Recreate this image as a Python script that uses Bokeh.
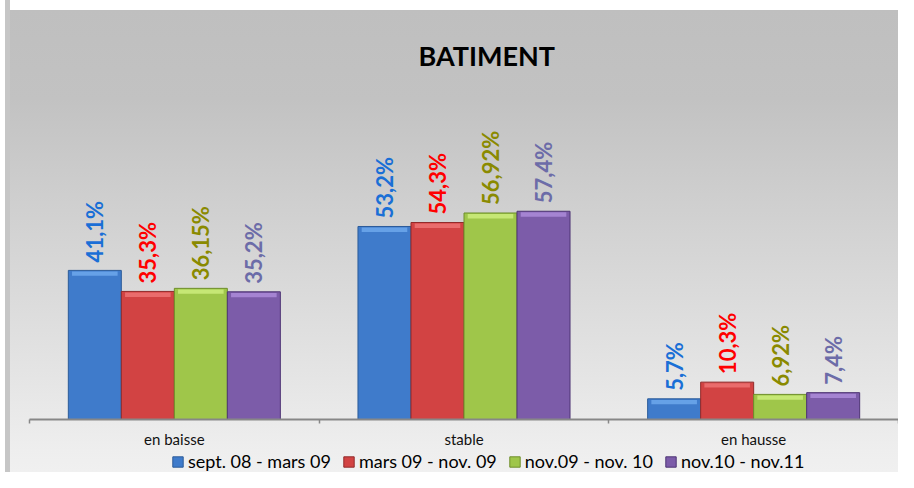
import math
from bokeh.plotting import figure
from bokeh.layouts import column
from bokeh.models import (ColumnDataSource, Range1d, FixedTicker, Legend, LegendItem)
from bokeh.transform import dodge
from bokeh.core.properties import value
from bokeh.embed import file_html
from bokeh.resources import INLINE

# ---- data ----
categories = ["en baisse", "stable", "en hausse"]
series_names = ["sept. 08 - mars 09", "mars 09 - nov. 09", "nov.09 - nov. 10", "nov.10 - nov.11"]
sept08_mars09 = [41.1, 53.2, 5.7]
mars09_nov09 = [35.3, 54.3, 10.3]
nov09_nov10 = [36.15, 56.92, 6.92]
nov10_nov11 = [35.2, 57.4, 7.4]
chart_title = "BATIMENT"

series_values = [sept08_mars09, mars09_nov09, nov09_nov10, nov10_nov11]

# ---- styles ----
fill_colors = ["#3f7bcb", "#d24343", "#9fc64a", "#7c5ca9"]
line_colors = ["#2b5b99", "#922a2a", "#6e8e2a", "#4e3575"]
hi_colors = ["#74adf0", "#f27a7a", "#d3f184", "#b392e0"]
label_colors = ["#1a6fd6", "#ff0000", "#8a8a00", "#6c6ca8"]
FONT = "Lato"
LEFT_EDGE = "linear-gradient(to right, #ffffff 0px, #ffffff 5px, #c6c6c6 5px, #c6c6c6 10px, transparent 10px)"

bar_w = 0.183
offsets = [-1.5 * bar_w, -0.5 * bar_w, 0.5 * bar_w, 1.5 * bar_w]

p = figure(width=898, height=450, output_backend="svg", toolbar_location=None,
           x_range=Range1d(0, len(categories)), y_range=Range1d(0, 86),
           y_axis_location=None, min_border_left=29, min_border_right=0,
           min_border_top=107, min_border_bottom=26)
p.styles = {"background": LEFT_EDGE + ", linear-gradient(to bottom, #ffffff 0px, #ffffff 10px, #bfbfbf 10px, #c2c2c2 22%, #eeeeee 100%)"}
p.border_fill_color = None
p.background_fill_color = None
p.outline_line_color = None
p.grid.visible = False

p.title.text = chart_title
p.title.align = "left"
p.title.text_font = FONT
p.title.text_font_style = "bold"
p.title.text_font_size = "27px"
p.title.text_color = "#000000"
p.title.offset = 389
p.title.standoff = 72

xc = [i + 0.5 for i in range(len(categories))]

for k, (name, vals) in enumerate(zip(series_names, series_values)):
    src = ColumnDataSource(dict(
        xc=xc, top=vals,
        hi_top=[v - 0.3 for v in vals], hi_bot=[v - 1.5 for v in vals],
        label=[("%g" % v).replace(".", ",") + "%" for v in vals],
    ))
    p.vbar(x=dodge("xc", offsets[k], range=p.x_range), top="top", bottom=0,
           width=bar_w, fill_color=fill_colors[k], line_color=line_colors[k],
           line_width=1, source=src)
    p.vbar(x=dodge("xc", offsets[k], range=p.x_range), top="hi_top", bottom="hi_bot",
           width=bar_w * 0.86, fill_color=hi_colors[k], fill_alpha=0.75,
           line_color=None, source=src)
    p.text(x=dodge("xc", offsets[k], range=p.x_range), y="top", text="label",
           angle=math.pi / 2, text_align="left", text_baseline="middle",
           y_offset=-8, text_font=value(FONT), text_font_style="bold",
           text_font_size="22px", text_color=label_colors[k], source=src)

ax = p.xaxis[0]
ax.ticker = FixedTicker(ticks=xc, minor_ticks=list(range(len(categories) + 1)))
ax.major_label_overrides = {x: c for x, c in zip(xc, categories)}
ax.axis_line_color = "#878787"
ax.axis_line_width = 2
ax.major_tick_line_color = None
ax.major_tick_out = 4
ax.major_tick_in = 0
ax.minor_tick_line_color = "#878787"
ax.minor_tick_line_width = 1.5
ax.minor_tick_out = 4
ax.minor_tick_in = 0
ax.major_label_standoff = 6
ax.major_label_text_font = FONT
ax.major_label_text_font_size = "15px"
ax.major_label_text_color = "#111111"

# ---- legend strip (separate small figure below the chart) ----
p2 = figure(width=898, height=22, output_backend="svg", toolbar_location=None,
            x_range=Range1d(0, 1), y_range=Range1d(0, 1),
            x_axis_location=None, y_axis_location=None,
            min_border_left=0, min_border_right=0, min_border_top=0, min_border_bottom=0)
p2.styles = {"background": LEFT_EDGE + ", linear-gradient(#eeeeee, #f0f0f0)"}
p2.border_fill_color = None
p2.background_fill_color = None
p2.outline_line_color = None
p2.grid.visible = False

items = []
for k, name in enumerate(series_names):
    # zero-size proxy bar: only used to draw the legend swatch
    r = p2.vbar(x=[0], top=[0], bottom=[0], width=0, fill_color=fill_colors[k],
                line_color=line_colors[k])
    items.append(LegendItem(label=name, renderers=[r]))

legend = Legend(items=items, orientation="horizontal", location=(142, 0),
                glyph_width=13, glyph_height=13, label_standoff=4, spacing=11,
                padding=0, margin=0, label_text_font=FONT,
                label_text_font_size="18px", label_text_color="#000000",
                background_fill_alpha=0, border_line_color=None, label_height=18)
p2.add_layout(legend, "center")

layout = column(p, p2, spacing=0)
open("out.html", "w").write(file_html(layout, INLINE))
